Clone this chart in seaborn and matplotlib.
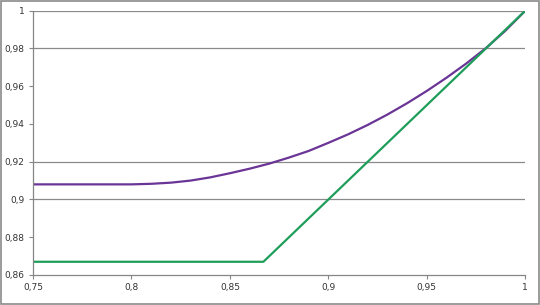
import numpy as np
import pandas as pd
import matplotlib
matplotlib.use("Agg")
import matplotlib.pyplot as plt
import seaborn as sns
from matplotlib.ticker import FuncFormatter

# Data
purple_x = [0.75, 0.80, 0.81, 0.82, 0.83, 0.84, 0.85, 0.86, 0.87, 0.88, 0.89,
            0.90, 0.91, 0.92, 0.93, 0.94, 0.95, 0.96, 0.97, 0.98, 0.99, 1.00]
purple_y = [0.908, 0.908, 0.9083, 0.9089, 0.9100, 0.9117, 0.9139, 0.9163, 0.9190,
            0.9222, 0.9257, 0.9300, 0.9345, 0.9395, 0.9450, 0.9510, 0.9575,
            0.9645, 0.9720, 0.9802, 0.9895, 1.000]
green_x = [0.75, 0.867, 1.00]
green_y = [0.867, 0.867, 1.00]

x_ticks = [0.75, 0.80, 0.85, 0.90, 0.95, 1.00]
y_ticks = [0.86, 0.88, 0.90, 0.92, 0.94, 0.96, 0.98, 1.00]
grid_levels = [0.90, 0.92, 0.98, 1.00]

sns.set_theme(style="white")
plt.rcParams['font.family'] = ['DejaVu Sans']

df = pd.concat([
    pd.DataFrame({"x": purple_x, "y": purple_y, "series": "purple"}),
    pd.DataFrame({"x": green_x, "y": green_y, "series": "green"}),
])

fig = plt.figure(figsize=(5.40, 3.05), dpi=100)
ax = fig.add_axes([0.0611, 0.0984, 0.9117, 0.8666])

for g in grid_levels:
    ax.axhline(g, color="#8a8a8a", lw=0.9, zorder=0)

sns.lineplot(data=df, x="x", y="y", hue="series",
             palette={"purple": "#6a3596", "green": "#1f9d5a"},
             linewidth=1.6, legend=False, ax=ax, sort=False, estimator=None)

ax.set_xlim(0.75, 1.0)
ax.set_ylim(0.86, 1.0)
ax.set_xticks(x_ticks)
ax.set_yticks(y_ticks)

def fmt(v, pos):
    s = ("%.2f" % v).rstrip("0").rstrip(".")
    return s.replace(".", ",")

ax.xaxis.set_major_formatter(FuncFormatter(fmt))
ax.yaxis.set_major_formatter(FuncFormatter(fmt))
ax.tick_params(axis="both", which="major", labelsize=6.5, labelcolor="#333333",
               length=3, width=0.8, direction="out", pad=3, color="#868686")
ax.xaxis.set_ticks_position("bottom")
ax.yaxis.set_ticks_position("left")
ax.set_xlabel("")
ax.set_ylabel("")
for side in ["top", "right"]:
    ax.spines[side].set_visible(False)
for side in ["left", "bottom"]:
    ax.spines[side].set_color("#868686")
    ax.spines[side].set_linewidth(0.9)

# outer frame around the figure
fig.patches.append(plt.Rectangle((0.002, 0.003), 0.996, 0.994, transform=fig.transFigure,
                                 fill=False, edgecolor="#8a8a8a", linewidth=1.2))

fig.savefig("out.png", dpi=100)
